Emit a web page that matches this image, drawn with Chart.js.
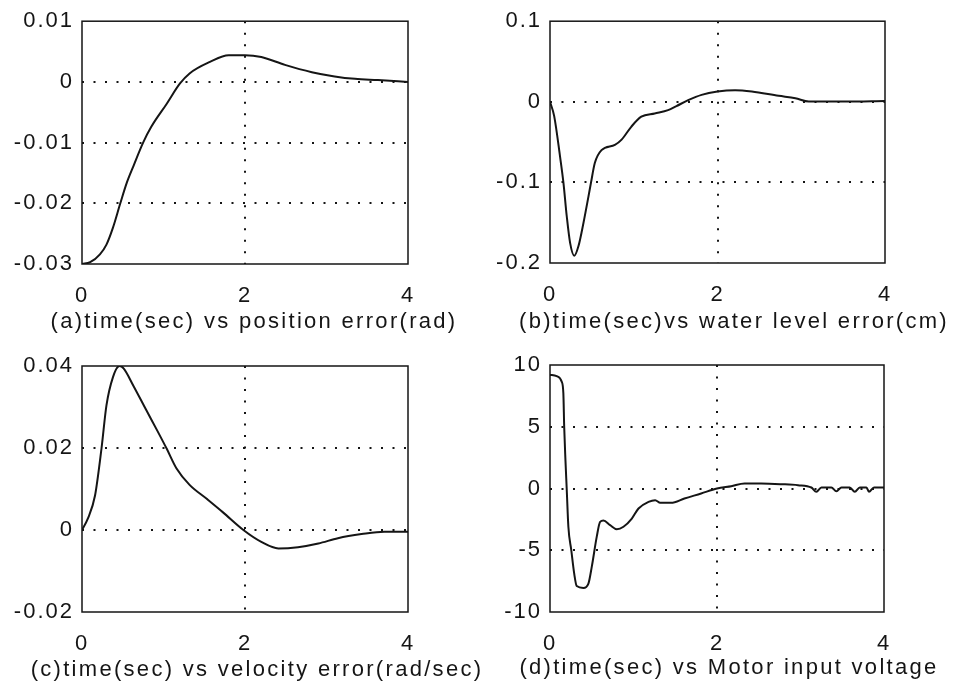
<!DOCTYPE html>
<html>
<head>
<meta charset="utf-8">
<script src="https://cdn.jsdelivr.net/npm/chart.js@4.4.1/dist/chart.umd.min.js"></script>
<style>
  html, body { margin: 0; padding: 0; background: #fff; }
  #wrap { position: relative; width: 953px; height: 685px; }
  #wrap canvas { position: absolute; left: 0; top: 0; }
</style>
</head>
<body>
<div id="wrap">
  <canvas id="chartA" width="953" height="685"></canvas>
  <canvas id="chartB" width="953" height="685"></canvas>
  <canvas id="chartC" width="953" height="685"></canvas>
  <canvas id="chartD" width="953" height="685"></canvas>
</div>
<script>
// --- data ---
const xTicks = [0, 2, 4];
const xTickLabels = ['0', '2', '4'];

// (a) position error (rad)
const timeA = [0, 0.1, 0.22, 0.3, 0.38, 0.47, 0.55, 0.63, 0.75, 0.85, 1.04, 1.2, 1.32, 1.57, 1.8, 2.0, 2.2, 2.49, 2.82, 3.1, 3.35, 3.63, 4.0];
const positionError = [-0.03, -0.0297, -0.0284, -0.0268, -0.024, -0.02, -0.0166, -0.0139, -0.01, -0.0074, -0.0036, -0.0003, 0.0014, 0.0033, 0.0044, 0.0044, 0.0041, 0.0028, 0.0016, 0.0009, 0.0005, 0.0003, 0];
const yTicksA = [-0.03, -0.02, -0.01, 0, 0.01];
const yLabelsA = ['-0.03', '-0.02', '-0.01', '0', '0.01'];

// (b) water level error (cm)
const timeB = [0, 0.05, 0.12, 0.16, 0.2, 0.24, 0.29, 0.34, 0.4, 0.46, 0.49, 0.535, 0.615, 0.775, 0.855, 0.97, 1.09, 1.25, 1.41, 1.51, 1.65, 1.81, 2.0, 2.21, 2.41, 2.73, 2.93, 3.09, 3.53, 4.0];
const levelError = [0, -0.0177, -0.068, -0.1, -0.142, -0.175, -0.191, -0.179, -0.15, -0.117, -0.1, -0.076, -0.06, -0.0535, -0.047, -0.031, -0.0185, -0.0144, -0.0103, -0.0053, 0.002, 0.0086, 0.0127, 0.0143, 0.0127, 0.0074, 0.0045, 0.0004, 0.0004, 0.001];
const yTicksB = [-0.2, -0.1, 0, 0.1];
const yLabelsB = ['-0.2', '-0.1', '0', '0.1'];

// (c) velocity error (rad/sec)
const timeC = [0, 0.07, 0.16, 0.24, 0.3, 0.38, 0.46, 0.51, 0.63, 0.79, 0.93, 1.04, 1.16, 1.32, 1.53, 1.73, 1.98, 2.2, 2.41, 2.65, 2.9, 3.14, 3.43, 3.71, 4.0];
const velocityError = [0, 0.0027, 0.0084, 0.02, 0.0304, 0.0373, 0.04, 0.0394, 0.0352, 0.0292, 0.024, 0.0198, 0.015, 0.011, 0.0076, 0.0043, 0, -0.0029, -0.0045, -0.0042, -0.0033, -0.002, -0.001, -0.0004, -0.0004];
const yTicksC = [-0.02, 0, 0.02, 0.04];
const yLabelsC = ['-0.02', '0', '0.02', '0.04'];

// (d) motor input voltage
const timeD = [0, 0.08, 0.14, 0.16, 0.17, 0.185, 0.2, 0.22, 0.255, 0.29, 0.32, 0.4, 0.46, 0.5, 0.56, 0.6, 0.64, 0.72, 0.8, 0.88, 0.98, 1.06, 1.18, 1.26, 1.32, 1.45, 1.61, 1.81, 2.0, 2.17, 2.33, 2.53, 2.77, 2.97, 3.13, 3.19, 3.25, 3.37, 3.43, 3.49, 3.59, 3.65, 3.71, 3.79, 3.82, 3.88, 4.0];
const motorVoltage = [9.2, 9.1, 8.65, 7.7, 5.0, 2.3, 0, -3.1, -5.0, -6.9, -7.9, -8.05, -7.7, -6.35, -3.9, -2.7, -2.6, -2.97, -3.3, -3.1, -2.43, -1.62, -1.08, -0.95, -1.16, -1.16, -0.81, -0.4, 0, 0.19, 0.4, 0.4, 0.35, 0.27, 0.08, -0.27, 0.08, 0.08, -0.22, 0.08, 0.08, -0.27, 0.08, 0.08, -0.27, 0.08, 0.08];
const yTicksD = [-10, -5, 0, 5, 10];
const yLabelsD = ['-10', '-5', '0', '5', '10'];

// --- look ---
const INK = '#151515';
const FONT_FAMILY = '"Liberation Sans", Arial, sans-serif';
const Y_AXIS_W = 70;
const X_AXIS_H = 50;

// box around the plot area + caption underneath
const frameAndCaption = {
  id: 'frameAndCaption',
  beforeDraw(chart) {
    chart.ctx.letterSpacing = '2px';
  },
  afterDraw(chart, args, opts) {
    const { ctx, chartArea: a } = chart;
    ctx.save();
    ctx.strokeStyle = INK;
    ctx.lineWidth = 1.5;
    ctx.strokeRect(a.left, a.top, a.right - a.left, a.bottom - a.top);
    ctx.font = '22px ' + FONT_FAMILY;
    ctx.letterSpacing = '2.3px';
    ctx.fillStyle = INK;
    ctx.textAlign = 'center';
    ctx.textBaseline = 'middle';
    ctx.fillText(opts.text, opts.x, opts.y);
    ctx.restore();
  }
};

function interior(c) {
  return c.tick && c.tick.value > c.scale.min && c.tick.value < c.scale.max;
}

function makePanel(id, time, values, yTicks, yLabels, area, caption) {
  const W = 953, H = 685;
  return new Chart(document.getElementById(id), {
    type: 'line',
    data: {
      datasets: [{
        data: time.map((t, i) => ({ x: t, y: values[i] })),
        borderColor: INK,
        borderWidth: 2,
        pointRadius: 0,
        cubicInterpolationMode: 'monotone',
        fill: false
      }]
    },
    options: {
      responsive: false,
      animation: false,
      layout: {
        padding: {
          left: area.left - Y_AXIS_W,
          right: W - area.right,
          top: area.top,
          bottom: H - area.bottom - X_AXIS_H
        }
      },
      scales: {
        x: {
          type: 'linear',
          min: 0,
          max: 4,
          afterBuildTicks: s => { s.ticks = xTicks.map(v => ({ value: v })); },
          afterFit: s => { s.height = X_AXIS_H; },
          ticks: {
            callback: (v, i) => xTickLabels[i],
            color: INK,
            padding: 19,
            maxRotation: 0,
            autoSkip: false,
            font: { family: FONT_FAMILY, size: 22 }
          },
          grid: {
            color: c => interior(c) ? INK : 'rgba(0,0,0,0)',
            lineWidth: 2,
            drawTicks: false
          },
          border: { display: false, dash: [2, 9.5] }
        },
        y: {
          min: yTicks[0],
          max: yTicks[yTicks.length - 1],
          afterBuildTicks: s => { s.ticks = yTicks.map(v => ({ value: v })); },
          afterFit: s => { s.width = Y_AXIS_W; },
          ticks: {
            callback: (v, i) => yLabels[i],
            color: INK,
            padding: 8,
            autoSkip: false,
            font: { family: FONT_FAMILY, size: 22 }
          },
          grid: {
            color: c => interior(c) ? INK : 'rgba(0,0,0,0)',
            lineWidth: 2,
            drawTicks: false
          },
          border: { display: false, dash: [2, 9.5] }
        }
      },
      plugins: {
        legend: { display: false },
        tooltip: { enabled: false },
        frameAndCaption: caption
      }
    },
    plugins: [frameAndCaption]
  });
}

makePanel('chartA', timeA, positionError, yTicksA, yLabelsA,
  { left: 82, right: 408, top: 21, bottom: 264 },
  { text: '(a)time(sec) vs position error(rad)', x: 254, y: 322 });
makePanel('chartB', timeB, levelError, yTicksB, yLabelsB,
  { left: 550, right: 885, top: 17, bottom: 263 },
  { text: '(b)time(sec)vs water level error(cm)', x: 734, y: 322 });
makePanel('chartC', timeC, velocityError, yTicksC, yLabelsC,
  { left: 82, right: 408, top: 366, bottom: 612 },
  { text: '(c)time(sec) vs velocity error(rad/sec)', x: 257, y: 670 });
makePanel('chartD', timeD, motorVoltage, yTicksD, yLabelsD,
  { left: 550, right: 884, top: 365, bottom: 612 },
  { text: '(d)time(sec) vs Motor input voltage', x: 729, y: 668 });
</script>
</body>
</html>
